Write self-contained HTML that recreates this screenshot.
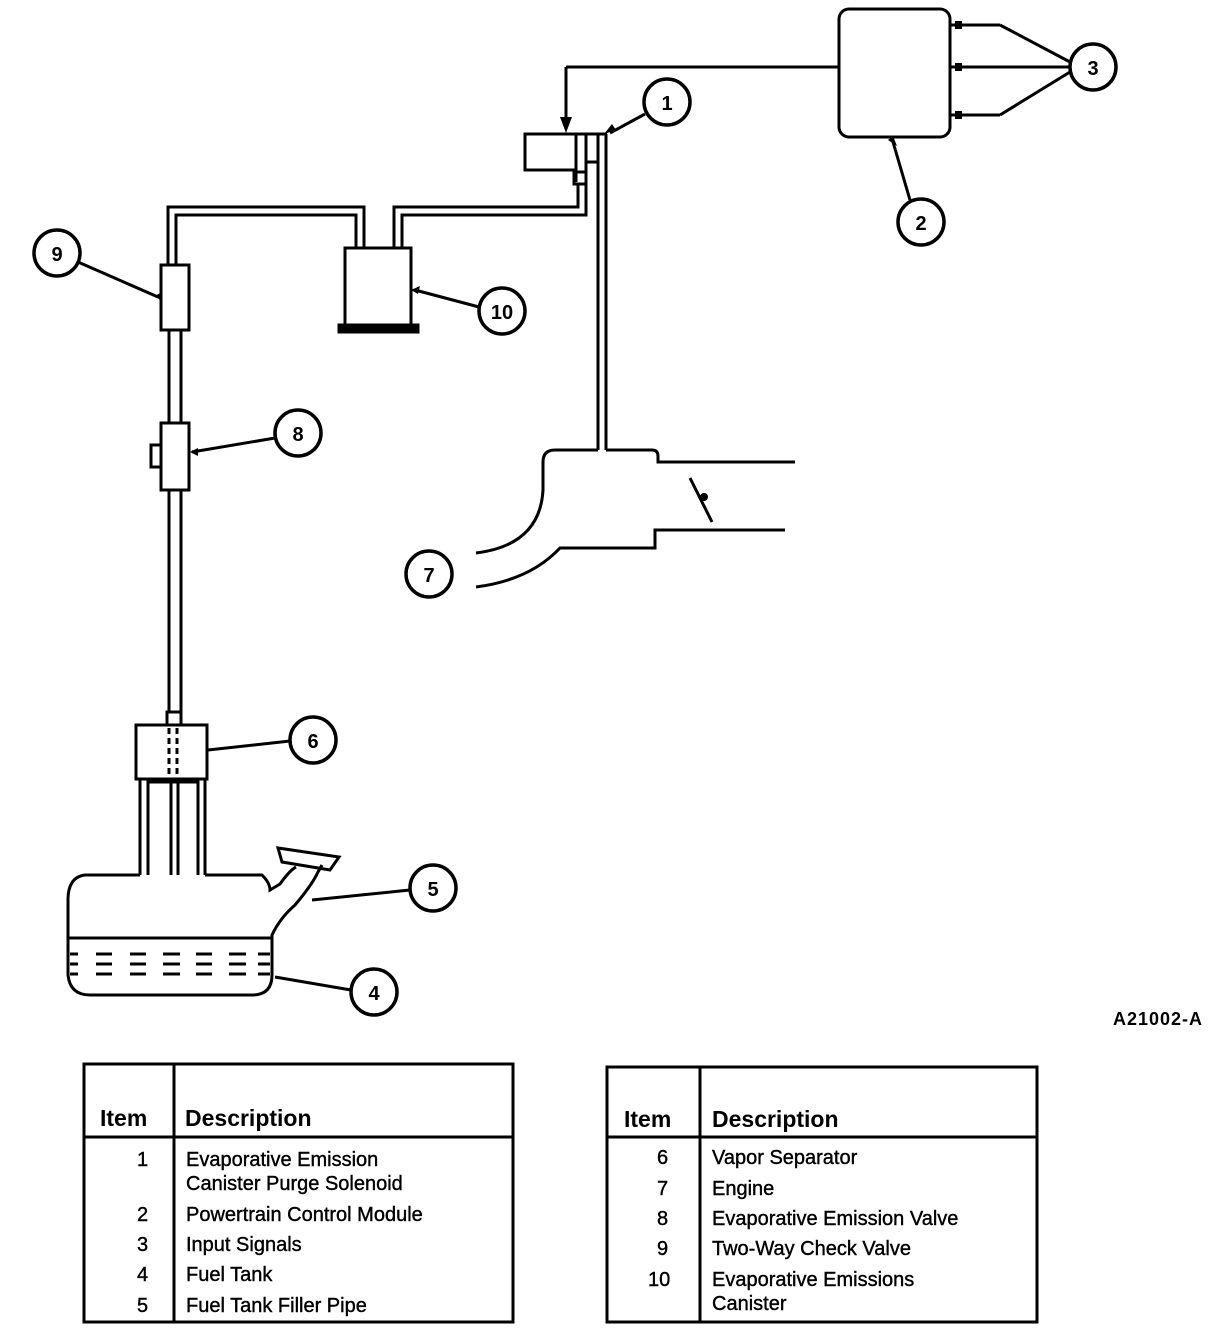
<!DOCTYPE html>
<html><head><style>
body{margin:0;background:#fff;}
svg{display:block}
text{font-family:"Liberation Sans",sans-serif;fill:#000}
.t{font-size:20px;stroke:#000;stroke-width:0.4}
.b{font-size:23px;font-weight:bold}
.n{font-size:20px;font-weight:bold}
</style></head><body>
<svg width="1232" height="1330" viewBox="0 0 1232 1330" xmlns="http://www.w3.org/2000/svg">
<g fill="none" stroke="#000" stroke-width="3">
<rect x="839" y="9" width="111" height="128" rx="10"/>
<line x1="838" y1="67" x2="566" y2="67"/>
<line x1="566" y1="67" x2="566" y2="120"/>
<line x1="950" y1="25" x2="1000" y2="25"/><line x1="1000" y1="25" x2="1070" y2="62"/>
<line x1="950" y1="67" x2="1069" y2="67"/>
<line x1="950" y1="115" x2="1000" y2="115"/><line x1="1000" y1="115" x2="1070" y2="72"/>
<g stroke-width="3.5">
<circle cx="1093" cy="67" r="23"/>
<circle cx="921" cy="222" r="23"/>
<circle cx="667" cy="102" r="23"/>
<circle cx="502" cy="311" r="23"/>
<circle cx="57" cy="253" r="23"/>
<circle cx="298" cy="433" r="23"/>
<circle cx="313" cy="740" r="23"/>
<circle cx="433" cy="888" r="23"/>
<circle cx="374" cy="992" r="23"/>
<circle cx="429" cy="574" r="23"/>
</g>
<line x1="910" y1="200" x2="893" y2="142"/>
<line x1="645" y1="114" x2="610" y2="133"/>
<rect x="525" y="134" width="51" height="36"/>
<line x1="524" y1="134" x2="607" y2="134"/>
<line x1="576" y1="134" x2="576" y2="182"/>
<line x1="586" y1="134" x2="586" y2="182"/>
<line x1="598" y1="134" x2="598" y2="450"/>
<line x1="606" y1="134" x2="606" y2="450"/>
<line x1="586" y1="162" x2="598" y2="162"/>
<rect x="574" y="172" width="12" height="12"/>
<path d="M578 184 V207 H394 V248"/>
<path d="M586 184 V215 H402 V248"/>
<path d="M364 248 V207 H168 V265"/>
<path d="M356 248 V215 H176 V265"/>
<rect x="345" y="248" width="66" height="77"/>
<rect x="339" y="325" width="79" height="7" fill="#000"/>
<line x1="479" y1="307" x2="415" y2="290"/>
<rect x="161" y="265" width="28" height="65"/>
<line x1="78" y1="262" x2="158" y2="297"/>
<line x1="169" y1="330" x2="169" y2="423"/><line x1="181" y1="330" x2="181" y2="423"/>
<rect x="161" y="423" width="28" height="67"/>
<rect x="151" y="445" width="10" height="22"/>
<line x1="275" y1="438" x2="192" y2="452"/>
<line x1="169" y1="490" x2="169" y2="712"/><line x1="181" y1="490" x2="181" y2="712"/>
<path d="M167 725 V712 H181 V725"/>
<rect x="136" y="725" width="71" height="54"/>
<line x1="169" y1="728" x2="169" y2="775" stroke-dasharray="6,4"/>
<line x1="177" y1="728" x2="177" y2="775" stroke-dasharray="6,4"/>
<line x1="290" y1="741" x2="208" y2="750"/>
<line x1="140" y1="779" x2="140" y2="875"/>
<line x1="205" y1="779" x2="205" y2="875"/>
<path d="M148 875 V782 H198 V875"/>
<line x1="171" y1="782" x2="171" y2="875"/><line x1="178" y1="782" x2="178" y2="875"/>
<path d="M140 875 H85 Q68 877 68 900 V975 Q70 995 90 995 H252 Q272 995 272 975 V935 Q280 918 295 905 Q312 885 318 872 L322 865"/>
<path d="M205 875 H262 Q270 883 270 890 L280 884 Q290 870 296 867"/>
<path d="M278 848 L282 862 L330 870 L339 857 Z" />
<line x1="68" y1="938" x2="272" y2="938"/>
<path d="M70 954 H78 M96 954 H112 M130 954 H146 M163 954 H180 M196 954 H212 M229 954 H246 M258 954 H270"/>
<path d="M70 964 H78 M96 964 H112 M130 964 H146 M163 964 H180 M196 964 H212 M229 964 H246 M258 964 H270"/>
<path d="M70 974 H78 M96 974 H112 M130 974 H146 M163 974 H180 M196 974 H212 M229 974 H246 M258 974 H270"/>
<line x1="410" y1="890" x2="312" y2="900"/>
<line x1="351" y1="990" x2="275" y2="977"/>
<path d="M476 553 Q540 545 543 490 V462 Q543 450 555 450 H598"/>
<path d="M606 450 H652 Q658 450 658 456 V462 H795"/>
<path d="M476 587 Q530 580 560 548 H655 V530 H785"/>
<line x1="690" y1="478" x2="712" y2="522"/>
<rect x="84" y="1064" width="429" height="258"/>
<line x1="84" y1="1137" x2="513" y2="1137"/>
<line x1="174" y1="1064" x2="174" y2="1322"/>
<rect x="607" y="1067" width="430" height="255"/>
<line x1="607" y1="1137" x2="1037" y2="1137"/>
<line x1="700" y1="1067" x2="700" y2="1322"/>
</g>
<g fill="#000">
<polygon points="560,117 572,117 566,133"/>
<polygon points="604,134 612,124 616,130"/>
<polygon points="888,140 897,146 893,136"/>
<rect x="955" y="21" width="7" height="8"/><rect x="955" y="63" width="7" height="8"/><rect x="955" y="111" width="7" height="8"/>
<polygon points="155,296 162,292 160,300"/>
<polygon points="411,290 420,286 418,294"/>
<polygon points="190,452 198,448 198,456"/>
<circle cx="704" cy="497" r="4"/>
</g>
<g class="n" text-anchor="middle">
<text x="667" y="110">1</text><text x="921" y="230">2</text><text x="1093" y="75">3</text>
<text x="374" y="1000">4</text><text x="433" y="896">5</text><text x="313" y="748">6</text>
<text x="429" y="582">7</text><text x="298" y="441">8</text><text x="57" y="261">9</text>
<text x="502" y="319">10</text>
</g>
<text x="1113" y="1025" style="font-size:18px;font-weight:bold;letter-spacing:1px">A21002-A</text>
<text class="b" x="100" y="1126">Item</text><text class="b" x="185" y="1126">Description</text>
<g class="t">
<text x="137" y="1166">1</text><text x="186" y="1166">Evaporative Emission</text>
<text x="186" y="1190">Canister Purge Solenoid</text>
<text x="137" y="1221">2</text><text x="186" y="1221">Powertrain Control Module</text>
<text x="137" y="1251">3</text><text x="186" y="1251">Input Signals</text>
<text x="137" y="1281">4</text><text x="186" y="1281">Fuel Tank</text>
<text x="137" y="1312">5</text><text x="186" y="1312">Fuel Tank Filler Pipe</text>
</g>
<text class="b" x="624" y="1127">Item</text><text class="b" x="712" y="1127">Description</text>
<g class="t">
<text x="657" y="1164">6</text><text x="712" y="1164">Vapor Separator</text>
<text x="657" y="1195">7</text><text x="712" y="1195">Engine</text>
<text x="657" y="1225">8</text><text x="712" y="1225">Evaporative Emission Valve</text>
<text x="657" y="1255">9</text><text x="712" y="1255">Two-Way Check Valve</text>
<text x="648" y="1286">10</text><text x="712" y="1286">Evaporative Emissions</text>
<text x="712" y="1310">Canister</text>
</g>
</svg>
</body></html>
